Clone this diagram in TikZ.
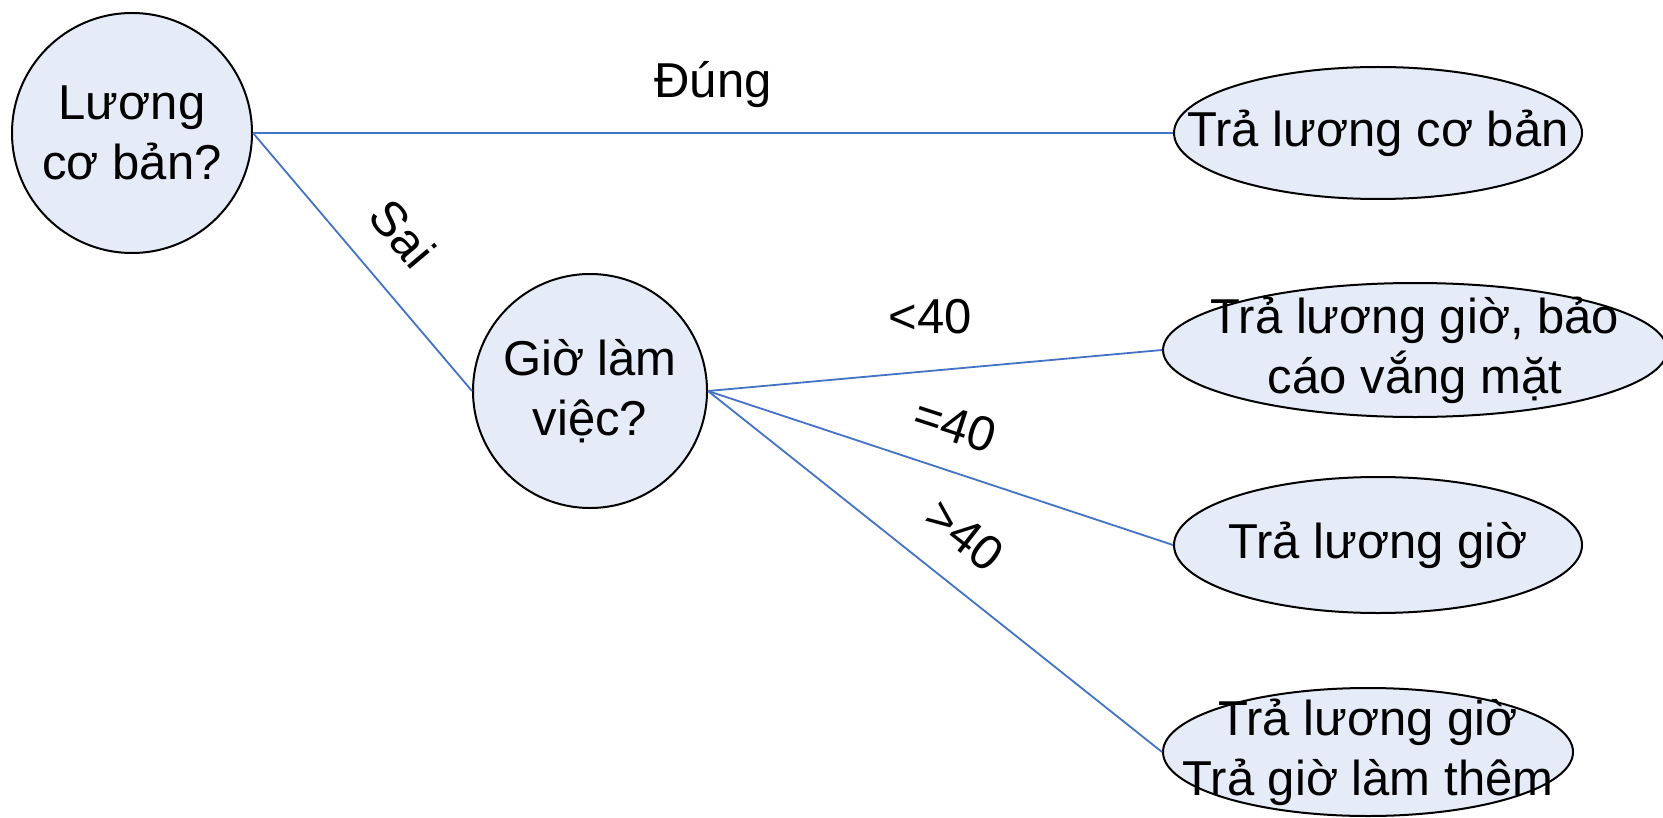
\documentclass[tikz,border=0pt]{standalone}
\usepackage{fontspec}
\setmainfont{Liberation Sans}
\usetikzlibrary{shapes.geometric}

\definecolor{nodefill}{RGB}{230,236,247}
\definecolor{linkblue}{RGB}{68,114,196}

\begin{document}
\begin{tikzpicture}[x=0.5pt,y=-0.5pt,
  txt/.style={font=\fontsize{24.5}{30}\selectfont, align=center},
  decision/.style={txt, circle, draw=black, line width=1pt, fill=nodefill,
    minimum size=120pt, inner sep=0pt},
  outcome/.style={ellipse, draw=black, line width=1pt, fill=nodefill,
    inner sep=0pt},
  link/.style={draw=linkblue, line width=0.9pt},
  lbl/.style={txt, inner sep=0pt}
]
\useasboundingbox[fill=white] (0,0) rectangle (1663,818);

% decision nodes
\node[decision] (c1) at (132,133) {Lương\\cơ bản?};
\node[decision, minimum size=117pt] (c2) at (590,391) {Giờ làm\\việc?};

% outcome ellipses, fixed size, with their texts on top
\node[outcome, minimum width=204pt, minimum height=66pt] (e1) at (1378,133) {};
\node[outcome, minimum width=252pt, minimum height=67pt] (e2) at (1415,350) {};
\node[outcome, minimum width=204pt, minimum height=68pt] (e3) at (1378,545) {};
\node[outcome, minimum width=205pt, minimum height=64pt] (e4) at (1368,752) {};

\node[txt] (t1) at (e1) {Trả lương cơ bản};
\node[txt] (t2) at (e2) {Trả lương giờ, bảo\\cáo vắng mặt};
\node[txt] (t3) at (e3) {Trả lương giờ};
\node[txt] (t4) at (e4) {Trả lương giờ\\Trả giờ làm thêm};

% connectors
\draw[link] (c1.east) -- (e1.west);
\draw[link] (c1.east) -- (c2.west);
\draw[link] (c2.east) -- (e2.west);
\draw[link] (c2.east) -- (e3.west);
\draw[link] (c2.east) -- (e4.west);

% branch labels
\node[lbl] (lyes) at (713,85) {Đúng};
\node[lbl, rotate=-50] (lno) at (403,233) {Sai};
\node[lbl] (llt) at (930,317) {<40};
\node[lbl, rotate=-18] (leq) at (955,425) {=40};
\node[lbl, rotate=-38] (lgt) at (965,535) {>40};
\end{tikzpicture}
\end{document}
